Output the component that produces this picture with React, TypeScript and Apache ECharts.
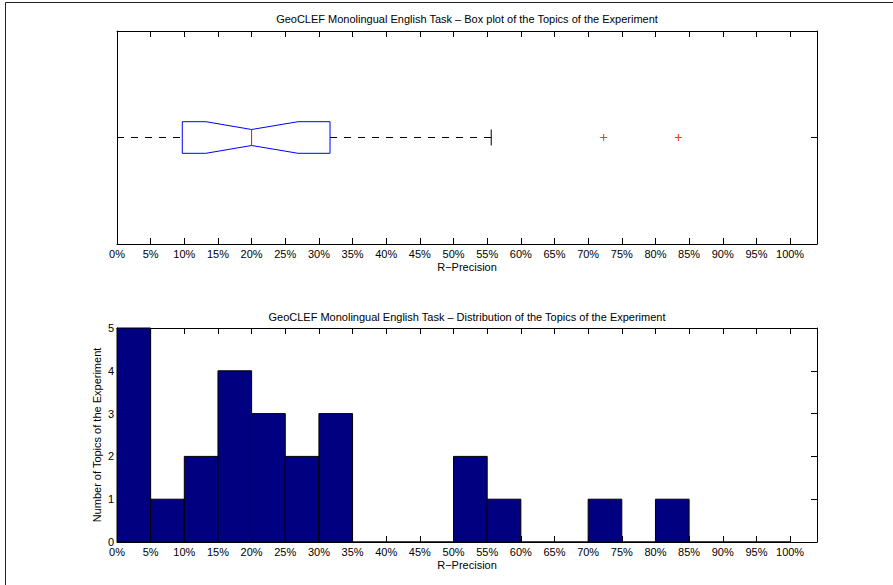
import React, { useEffect, useRef } from "react";
import * as echarts from "echarts";

// ---- Data ----
const boxTitle = "GeoCLEF Monolingual English Task \u2013 Box plot of the Topics of the Experiment";
const histTitle = "GeoCLEF Monolingual English Task \u2013 Distribution of the Topics of the Experiment";
const xAxisName = "R\u2212Precision";
const yAxisName = "Number of Topics of the Experiment";

// box plot statistics (fractions of 1)
const whiskerLow = 0.0;
const quartile1 = 0.097;
const notchLow = 0.132;
const median = 0.2;
const notchHigh = 0.269;
const quartile3 = 0.3165;
const whiskerHigh = 0.556;
const outliers = [0.723, 0.834];

// histogram bins
const binStarts = [0, 0.05, 0.1, 0.15, 0.2, 0.25, 0.3, 0.35, 0.4, 0.45, 0.5, 0.55, 0.6, 0.65, 0.7, 0.75, 0.8, 0.85, 0.9, 0.95];
const binEnds = [0.05, 0.1, 0.15, 0.2, 0.25, 0.3, 0.35, 0.4, 0.45, 0.5, 0.55, 0.6, 0.65, 0.7, 0.75, 0.8, 0.85, 0.9, 0.95, 1.0];
const topicCounts = [5, 1, 2, 4, 3, 2, 3, 0, 0, 0, 2, 1, 0, 0, 1, 0, 1, 0, 0, 0];

const FONT = "'Liberation Sans', Arial, Helvetica, sans-serif";

export default function App() {
  const ref = useRef<HTMLDivElement>(null);
  useEffect(() => {
    if (!ref.current) return;
    const chart = echarts.init(ref.current, null, { renderer: "svg" });
    const pct = (v: number) => (v > 1.001 ? "" : Math.round(v * 100) + "%");
    const xBase = (gridIndex: number, position: string, labels: boolean, name?: string) => ({
      type: "value",
      gridIndex,
      position,
      min: 0,
      max: 1.04,
      interval: 0.05,
      name: name || "",
      nameLocation: "middle",
      nameGap: 17,
      nameMoveOverlap: false,
      nameTextStyle: { fontFamily: FONT, fontSize: 11, color: "#000" },
      axisLine: { show: true, onZero: false, lineStyle: { color: "#000", width: 1 } },
      axisTick: { show: true, inside: true, length: 6, lineStyle: { color: "#000" } },
      axisLabel: {
        show: labels,
        showMaxLabel: false,
        margin: 4,
        formatter: pct,
        fontFamily: FONT,
        fontSize: 11,
        color: "#000",
      },
      splitLine: { show: false },
    });
    const yBase = (gridIndex: number, position: string, max: number, labels: boolean, name?: string) => ({
      type: "value",
      gridIndex,
      position,
      min: 0,
      max,
      interval: 1,
      name: name || "",
      nameLocation: "middle",
      nameGap: 15,
      nameMoveOverlap: false,
      nameTextStyle: { fontFamily: FONT, fontSize: 11, color: "#000" },
      axisLine: { show: true, onZero: false, lineStyle: { color: "#000", width: 1 } },
      axisTick: { show: true, inside: true, length: 6, lineStyle: { color: "#000" } },
      axisLabel: { show: labels, margin: 3, fontFamily: FONT, fontSize: 11, color: "#000" },
      splitLine: { show: false },
    });

    const boxData = [[whiskerLow, quartile1, notchLow, median, notchHigh, quartile3, whiskerHigh, 1]];
    const histData = binStarts.map((s, i) => [s, binEnds[i], topicCounts[i]]);

    chart.setOption({
      animation: false,
      backgroundColor: "#fff",
      grid: [
        { left: 117, top: 31, width: 700, height: 213, containLabel: false },
        { left: 117, top: 328, width: 700, height: 214, containLabel: false },
      ],
      graphic: [
        {
          type: "rect",
          x: 5.5,
          y: 2.5,
          shape: { x: 0, y: 0, width: 1000, height: 1000 },
          style: { fill: "none", stroke: "#222", lineWidth: 1 },
          z: -1,
        },
        {
          type: "text",
          x: 467,
          y: 19,
          style: { text: boxTitle, font: `11px ${FONT}`, fill: "#000", align: "center", verticalAlign: "middle" },
        },
        {
          type: "text",
          x: 467,
          y: 317,
          style: { text: histTitle, font: `11px ${FONT}`, fill: "#000", align: "center", verticalAlign: "middle" },
        },
      ],
      xAxis: [
        xBase(0, "bottom", true, xAxisName),
        xBase(0, "top", false),
        xBase(1, "bottom", true, xAxisName),
        xBase(1, "top", false),
      ],
      yAxis: [
        yBase(0, "left", 2, false),
        yBase(0, "right", 2, false),
        yBase(1, "left", 5, true, yAxisName),
        yBase(1, "right", 5, false),
      ],
      series: [
        {
          type: "custom",
          xAxisIndex: 0,
          yAxisIndex: 0,
          data: boxData,
          renderItem: (params: any, api: any) => {
            const yv = api.value(7);
            const c = (i: number) => api.coord([api.value(i), yv]);
            const [xMin, cy] = c(0);
            const xQ1 = c(1)[0];
            const xNl = c(2)[0];
            const xMed = c(3)[0];
            const xNh = c(4)[0];
            const xQ3 = c(5)[0];
            const xMax = c(6)[0];
            const h = 15.8;
            const n = 8;
            return {
              type: "group",
              children: [
                { type: "line", shape: { x1: xMin, y1: cy, x2: xQ1, y2: cy }, style: { stroke: "#000", lineWidth: 1, lineDash: [7, 7] } },
                { type: "line", shape: { x1: xQ3, y1: cy, x2: xMax, y2: cy }, style: { stroke: "#000", lineWidth: 1, lineDash: [7, 7] } },
                { type: "line", shape: { x1: xMax, y1: cy - n, x2: xMax, y2: cy + n }, style: { stroke: "#000", lineWidth: 1 } },
                {
                  type: "polygon",
                  shape: {
                    points: [
                      [xQ1, cy - h], [xNl, cy - h], [xMed, cy - n], [xNh, cy - h], [xQ3, cy - h],
                      [xQ3, cy + h], [xNh, cy + h], [xMed, cy + n], [xNl, cy + h], [xQ1, cy + h],
                    ],
                  },
                  style: { fill: "#fff", stroke: "#0000ff", lineWidth: 1 },
                },
                { type: "line", shape: { x1: xMed, y1: cy - n, x2: xMed, y2: cy + n }, style: { stroke: "#ff0000", lineWidth: 1 } },
              ],
            };
          },
        },
        {
          type: "scatter",
          xAxisIndex: 0,
          yAxisIndex: 0,
          data: outliers.map((v) => [v, 1]),
          symbol: "path://M0,4.25h10v1.5h-10zM4.25,0h1.5v10h-1.5z",
          symbolSize: 7,
          itemStyle: { color: "#ff0000" },
        },
        {
          type: "custom",
          xAxisIndex: 2,
          yAxisIndex: 2,
          data: histData,
          renderItem: (params: any, api: any) => {
            const p0 = api.coord([api.value(0), api.value(2)]);
            const p1 = api.coord([api.value(1), 0]);
            return {
              type: "rect",
              shape: { x: p0[0], y: p0[1], width: p1[0] - p0[0], height: p1[1] - p0[1] },
              style: { fill: "#000080", stroke: "#000", lineWidth: 1 },
            };
          },
        },
      ],
    });
    return () => chart.dispose();
  }, []);
  return (
    <div
      ref={ref}
      style={{ position: "absolute", left: 0, top: 0, width: 893, height: 585, background: "#fff" }}
    />
  );
}
